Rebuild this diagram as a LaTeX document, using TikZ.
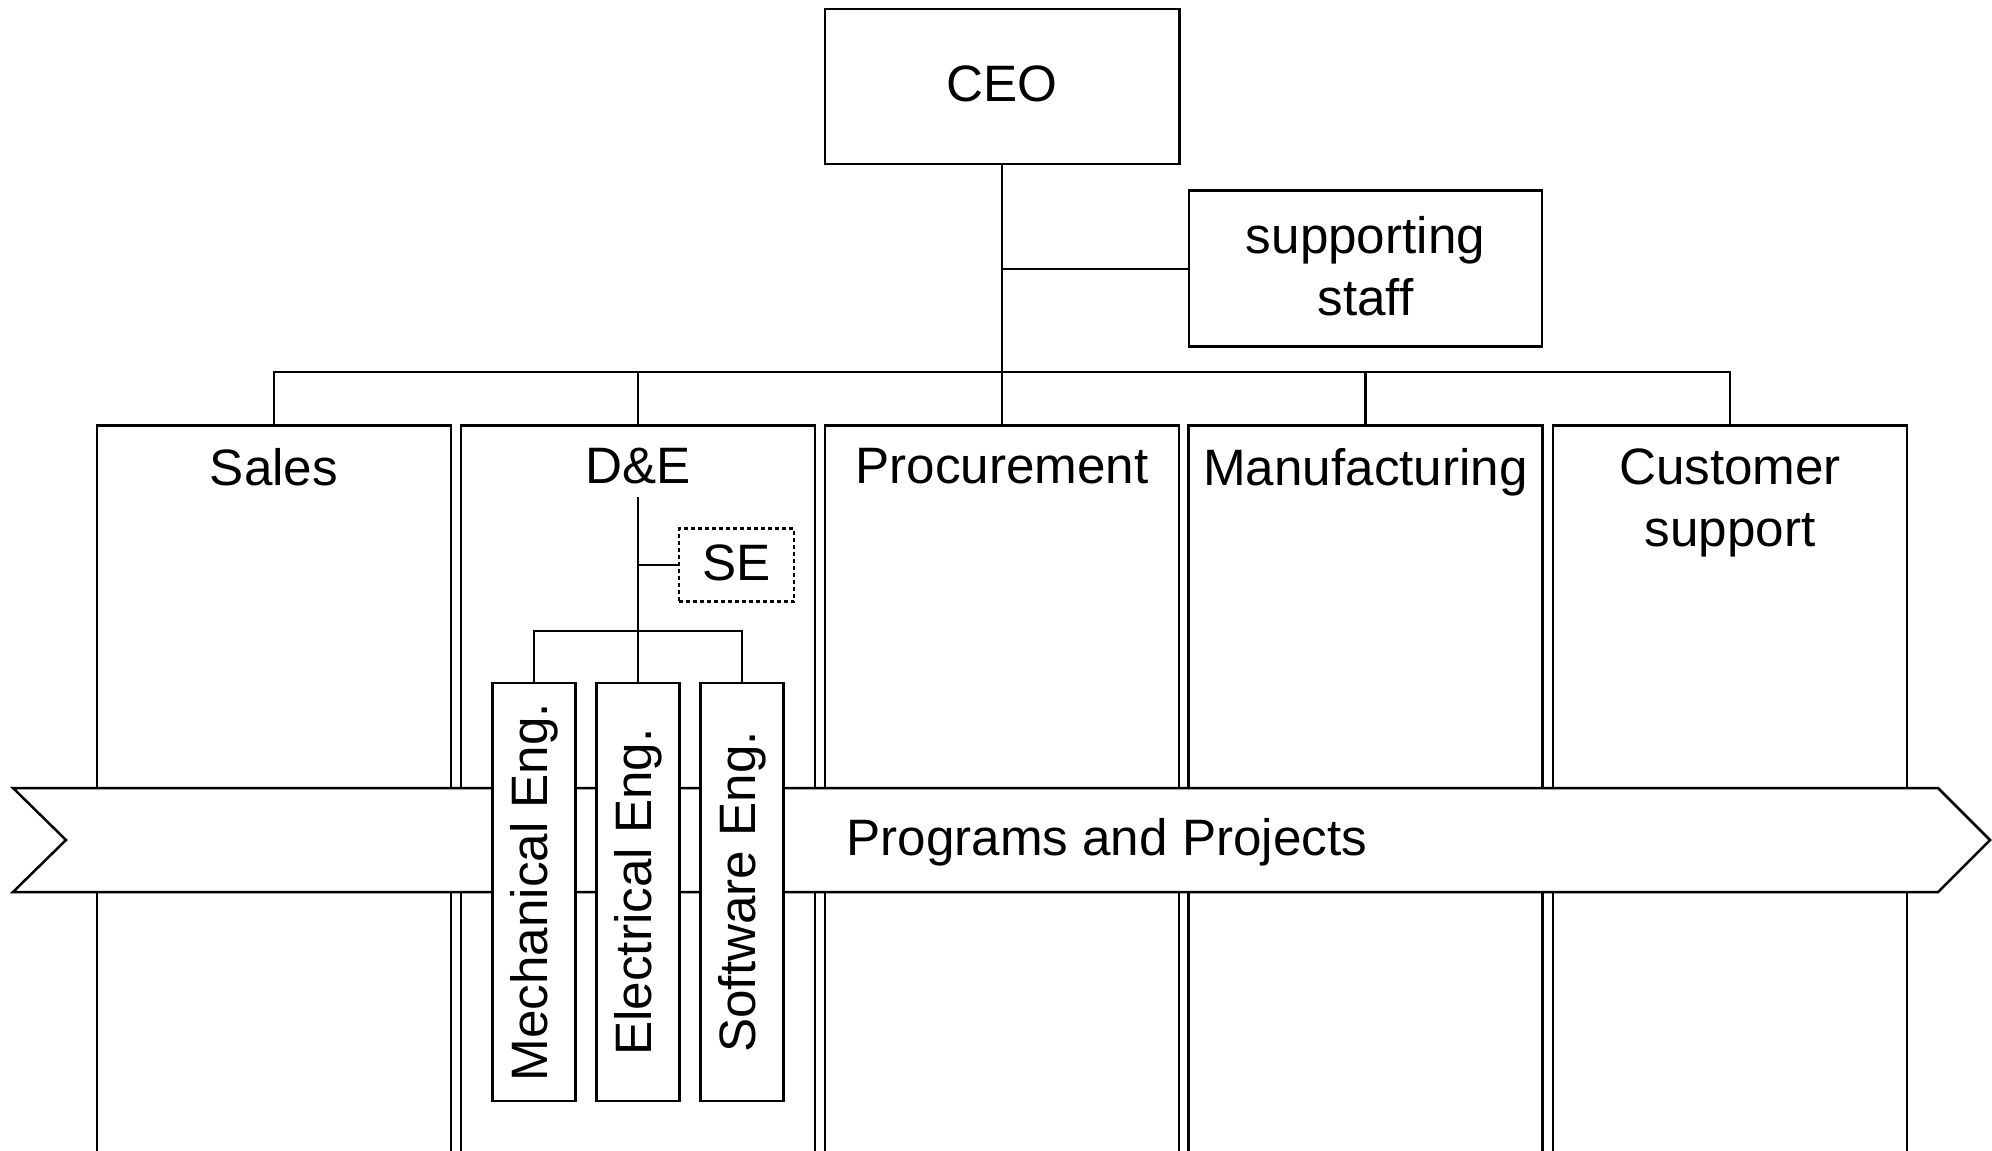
\documentclass[tikz,border=0pt]{standalone}
\usepackage{fontspec}
\setmainfont{Liberation Sans}
\begin{document}
\begin{tikzpicture}[x=0.5pt,y=-0.5pt,
  every node/.style={font=\fontsize{25.6pt}{31pt}\selectfont},
  line/.style={draw=black,line width=1.2pt},
  box/.style={draw=black,line width=1.25pt,fill=white,inner sep=0pt},
  colbox/.style={box,minimum width=177pt,minimum height=400pt,anchor=north},
  title/.style={anchor=north,inner sep=0pt,align=center},
  subbox/.style={box,rotate=90,minimum width=209pt,minimum height=41.5pt},
  sebox/.style={draw=black,line width=1.2pt,dash pattern=on 2pt off 1.5pt,inner sep=0pt,minimum width=57.5pt,minimum height=36.5pt},
  band/.style={draw=black,line width=1.25pt,fill=white,line join=miter},
  up/.style={yshift=1.25pt}
]
\useasboundingbox (0,0) rectangle (1992,1151);
\clip (0,0) rectangle (1992,1151);
\fill[white] (0,0) rectangle (1992,1151);

% top level
\node[box,minimum width=177.25pt,minimum height=77.5pt] (ceo) at (1002,86.5) {};
\node (tceo) at (1002,84) {CEO};
\node[box,minimum width=176.5pt,minimum height=78pt] (staff) at (1365.5,268.7) {};
\node[align=center] (tstaff) at (1365.5,266.2) {supporting\\staff};

% columns
\node[colbox] (sales) at (274,424) {};
\node[colbox] (de) at (638,424) {};
\node[colbox] (proc) at (1002,424) {};
\node[colbox] (manu) at (1365.5,424) {};
\node[colbox] (cust) at (1730,424) {};

\node[title] (tsales) at (274,448) {Sales};
\node[title] (tde) at (638,448) {D\&E};
\node[title] (tproc) at (1002,448) {Procurement};
\node[title] (tmanu) at (1365.5,448) {Manufacturing};
\node[title] (tcust) at (1730,448) {Customer\\support};

% connectors
\draw[line] (ceo.south) -- (proc.north);
\draw[line] (ceo.south |- staff.west) -- (staff.west);
\draw[line] (sales.north) -- ++(0,-52) -| (cust.north);
\draw[line] (de.north) -- ++(0,-52);
\draw[line] (manu.north) -- ++(0,-52);

% programs band
\draw[band] (13,788) -- (1938,788) -- (1990,840) -- (1938,892) -- (13,892) -- (66,840) -- cycle;
\node[anchor=base west,inner sep=0pt] (prog) at (846,855) {Programs and Projects};

% D&E internals
\node[sebox] (se) at (736.5,565) {};
\node (tse) at (736.5,562.5) {SE};
\node[subbox] (mech) at (534,892) {Mechanical Eng.};
\node[subbox] (elec) at (638,892) {Electrical Eng.};
\node[subbox] (soft) at (742,892) {Software Eng.};
\coordinate (detop) at (638,497);
\draw[line] (detop) -- (elec.east);
\draw[line] (detop |- se.west) -- (se.west);
\draw[line] (mech.east) -- ++(0,-51) -| (soft.east);
\end{tikzpicture}
\end{document}
